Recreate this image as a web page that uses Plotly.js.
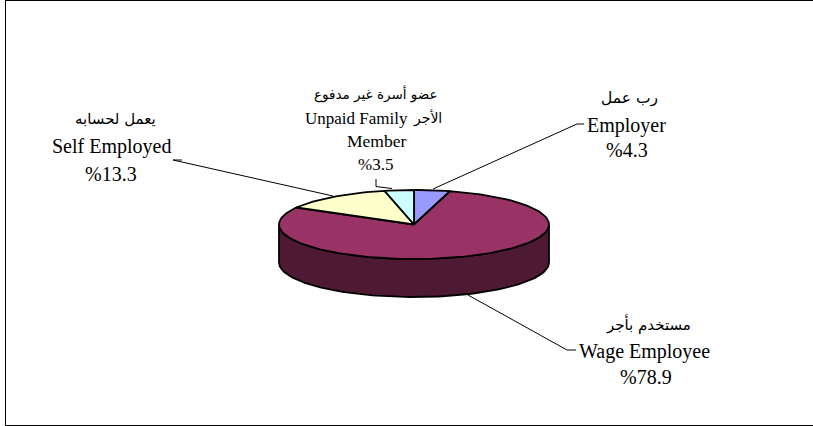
<!DOCTYPE html>
<html><head><meta charset="utf-8">
<script src="https://cdn.plot.ly/plotly-3.0.1.min.js"></script>
<style>html,body{margin:0;padding:0;background:#fff}#c{width:813px;height:426px}</style>
</head><body><div id="c"></div>
<script>
const categories = ['Employer','Wage Employee','Self Employed','Unpaid Family Member'];
const categoriesAr = ['رب عمل','مستخدم بأجر','يعمل لحسابه','عضو أسرة غير مدفوع الأجر'];
const shares = [4.3,78.9,13.3,3.5];
const sliceColors = ['#9999ff','#993366','#ffffcc','#ccffff'];
const wallColor = '#4d1933';

// ellipse geometry of the tilted pie, in the page-pixel axes
const cx=414, cy=224.5, rx=135, ry=34.5, depth=38;
const total = shares.reduce((a,b)=>a+b,0);
const pt=(deg,dy=0)=>{const t=deg*Math.PI/180;return [cx+rx*Math.sin(t), cy-ry*Math.cos(t)+dy];};
const traces=[];
// side wall: front half of the rim
{
  const xs=[],ys=[];
  for(let d=90;d<=270;d+=2){const p=pt(d);xs.push(p[0]);ys.push(p[1]);}
  for(let d=270;d>=90;d-=2){const p=pt(d,depth);xs.push(p[0]);ys.push(p[1]);}
  xs.push(xs[0]);ys.push(ys[0]);
  traces.push({type:'scatter',mode:'lines',x:xs,y:ys,fill:'toself',fillcolor:wallColor,line:{color:'#000',width:1.8},hoverinfo:'skip'});
}
// top slices
let acc=0;
shares.forEach((v,i)=>{
  const a0=acc/total*360, a1=(acc+v)/total*360; acc+=v;
  const xs=[cx],ys=[cy];
  const n=Math.max(2,Math.ceil((a1-a0)/2));
  for(let k=0;k<=n;k++){const p=pt(a0+(a1-a0)*k/n);xs.push(p[0]);ys.push(p[1]);}
  xs.push(cx);ys.push(cy);
  traces.push({type:'scatter',mode:'lines',x:xs,y:ys,fill:'toself',fillcolor:sliceColors[i],
    line:{color:'#000',width:1.8},name:categories[i],text:categoriesAr[i]+' '+v+'%',hoverinfo:'text'});
});
// leader lines
const leaders=[
 [[584,577,433],[124,124,189]],
 [[576,567,468],[350,350,295]],
 [[182,173,333],[160,160,196]],
 [[376,376,392],[179,186.5,188.5]]
];
leaders.forEach(l=>traces.push({type:'scatter',mode:'lines',x:l[0],y:l[1],line:{color:'#000',width:1},hoverinfo:'skip'}));

const AR='"DejaVu Sans",sans-serif', EN='"Liberation Serif",serif';
const lab=(x,y,text,ar,size)=>({x,y,xref:'x',yref:'y',text,showarrow:false,xanchor:'center',yanchor:'middle',
  font:{family:ar?AR:EN,size:size||(ar?15:20),color:'#000'}});
const annotations=[
 lab(629,98,categoriesAr[0],true,15.5),
 lab(626,125,categories[0]),
 lab(627,150,'%'+shares[0]),
 lab(648,324,categoriesAr[1],true),
 lab(644.5,351,categories[1]),
 lab(646,377,'%'+shares[1]),
 lab(115,119,categoriesAr[2],true),
 lab(111,146,categories[2]),
 lab(110.5,174,'%'+shares[2]),
 lab(376,94,'عضو أسرة غير مدفوع',true,13.5),
 lab(356,118,'Unpaid Family',false,17),
 lab(427.5,118,'الأجر',true,14),
 lab(376,141,'Member',false,17.5),
 lab(375,164,'%'+shares[3],false,17)
];
const frame=(x0,y0,x1,y1)=>({type:'line',xref:'x',yref:'y',x0,y0,x1,y1,line:{color:'#000',width:1}});
Plotly.newPlot('c',traces,{
  width:813,height:426,margin:{l:0,r:0,t:0,b:0},showlegend:false,
  paper_bgcolor:'#fff',plot_bgcolor:'#fff',
  xaxis:{range:[0,813],visible:false,fixedrange:true},
  yaxis:{range:[426,0],visible:false,fixedrange:true},
  annotations,
  shapes:[frame(5.5,0.5,813,0.5),frame(5.5,0,5.5,426),frame(5,425.5,813,425.5)]
},{displayModeBar:false,staticPlot:true});
</script></body></html>
